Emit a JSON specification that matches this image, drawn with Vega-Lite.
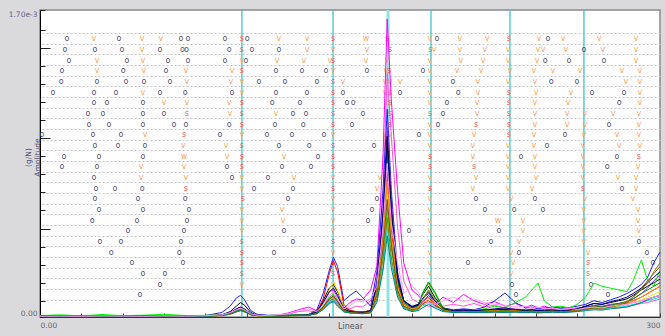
{
"$schema":"https://vega.github.io/schema/vega-lite/v6.json",
"width":620,"height":307,
"autosize":{"type":"none"},
"padding":{"left":40,"top":10,"right":5,"bottom":19},
"background":"#dadadd",
"config":{"view":{"fill":"#ffffff","stroke":"#8a8a8a","strokeWidth":1.5},"font":"DejaVu Sans"},
"datasets":{
"modes":[{"x":97.7,"kind":"mode"},{"x":141.8,"kind":"mode"},{"x":168.4,"kind":"peak"},{"x":189.2,"kind":"mode"},{"x":227.4,"kind":"mode"},{"x":263.2,"kind":"mode"}],
"spec":[
{"x":0,"a":5,"b":4,"c":6,"d":3,"e":4,"f":5,"g":3,"h":8,"i":4,"j":5,"k":3,"l":4,"m":6,"n":3,"o":5,"p":4},
{"x":10,"a":6,"b":5,"c":5,"d":4,"e":3,"f":4,"g":4,"h":12,"i":5,"j":4,"k":4,"l":3,"m":5,"n":4,"o":4,"p":5},
{"x":20,"a":5,"b":4,"c":7,"d":3,"e":4,"f":5,"g":3,"h":6,"i":4,"j":5,"k":3,"l":4,"m":4,"n":3,"o":6,"p":4},
{"x":30,"a":4,"b":5,"c":6,"d":4,"e":5,"f":4,"g":4,"h":14,"i":5,"j":4,"k":5,"l":3,"m":5,"n":4,"o":5,"p":6},
{"x":40,"a":6,"b":4,"c":5,"d":3,"e":4,"f":5,"g":3,"h":7,"i":4,"j":6,"k":4,"l":5,"m":4,"n":3,"o":4,"p":5},
{"x":50,"a":5,"b":6,"c":6,"d":4,"e":5,"f":4,"g":5,"h":10,"i":5,"j":4,"k":3,"l":4,"m":6,"n":5,"o":5,"p":4},
{"x":60,"a":7,"b":5,"c":5,"d":4,"e":4,"f":6,"g":4,"h":15,"i":4,"j":5,"k":5,"l":4,"m":5,"n":4,"o":6,"p":6},
{"x":70,"a":6,"b":4,"c":7,"d":5,"e":5,"f":5,"g":3,"h":8,"i":6,"j":4,"k":4,"l":5,"m":4,"n":3,"o":5,"p":5},
{"x":80,"a":8,"b":6,"c":8,"d":4,"e":6,"f":5,"g":5,"h":9,"i":5,"j":6,"k":5,"l":4,"m":6,"n":5,"o":4,"p":7},
{"x":88,"a":12,"b":10,"c":25,"d":8,"e":12,"f":10,"g":8,"h":12,"i":9,"j":10,"k":8,"l":9,"m":11,"n":8,"o":9,"p":12},
{"x":92,"a":25,"b":20,"c":60,"d":18,"e":30,"f":22,"g":15,"h":20,"i":18,"j":20,"k":16,"l":18,"m":22,"n":15,"o":18,"p":24},
{"x":95,"a":45,"b":35,"c":105,"d":30,"e":60,"f":40,"g":30,"h":35,"i":35,"j":32,"k":28,"l":30,"m":45,"n":28,"o":30,"p":40},
{"x":97,"a":55,"b":42,"c":120,"d":38,"e":80,"f":50,"g":40,"h":45,"i":42,"j":40,"k":35,"l":38,"m":55,"n":35,"o":36,"p":50},
{"x":99,"a":40,"b":35,"c":95,"d":30,"e":65,"f":40,"g":32,"h":35,"i":32,"j":30,"k":28,"l":30,"m":45,"n":28,"o":30,"p":40},
{"x":102,"a":18,"b":15,"c":35,"d":14,"e":25,"f":16,"g":12,"h":15,"i":14,"j":15,"k":12,"l":13,"m":18,"n":12,"o":13,"p":18},
{"x":105,"a":10,"b":8,"c":15,"d":8,"e":10,"f":9,"g":7,"h":9,"i":8,"j":9,"k":7,"l":8,"m":10,"n":7,"o":8,"p":10},
{"x":110,"a":8,"b":7,"c":10,"d":6,"e":7,"f":7,"g":5,"h":8,"i":6,"j":7,"k":6,"l":6,"m":8,"n":5,"o":6,"p":8},
{"x":115,"a":10,"b":9,"c":9,"d":6,"e":6,"f":7,"g":6,"h":12,"i":6,"j":8,"k":6,"l":7,"m":7,"n":6,"o":6,"p":12},
{"x":120,"a":22,"b":15,"c":10,"d":8,"e":8,"f":9,"g":7,"h":10,"i":7,"j":9,"k":7,"l":8,"m":8,"n":7,"o":7,"p":18},
{"x":125,"a":40,"b":30,"c":12,"d":10,"e":10,"f":12,"g":8,"h":12,"i":8,"j":10,"k":8,"l":9,"m":10,"n":8,"o":8,"p":35},
{"x":130,"a":55,"b":35,"c":14,"d":12,"e":12,"f":14,"g":10,"h":14,"i":10,"j":12,"k":10,"l":10,"m":12,"n":10,"o":10,"p":45},
{"x":134,"a":35,"b":25,"c":40,"d":20,"e":30,"f":30,"g":25,"h":25,"i":22,"j":20,"k":18,"l":20,"m":28,"n":18,"o":20,"p":30},
{"x":137,"a":70,"b":55,"c":130,"d":50,"e":90,"f":100,"g":70,"h":60,"i":55,"j":45,"k":50,"l":55,"m":80,"n":45,"o":40,"p":65},
{"x":140,"a":140,"b":110,"c":260,"d":90,"e":160,"f":240,"g":150,"h":110,"i":100,"j":85,"k":95,"l":100,"m":140,"n":80,"o":75,"p":120},
{"x":142,"a":150,"b":120,"c":330,"d":100,"e":180,"f":310,"g":190,"h":130,"i":115,"j":95,"k":110,"l":115,"m":160,"n":90,"o":85,"p":140},
{"x":144,"a":110,"b":90,"c":280,"d":75,"e":140,"f":250,"g":150,"h":95,"i":85,"j":70,"k":80,"l":85,"m":120,"n":65,"o":60,"p":100},
{"x":147,"a":50,"b":40,"c":90,"d":30,"e":55,"f":70,"g":50,"h":40,"i":35,"j":30,"k":35,"l":35,"m":45,"n":30,"o":28,"p":45},
{"x":150,"a":80,"b":45,"c":120,"d":25,"e":35,"f":35,"g":30,"h":30,"i":25,"j":22,"k":25,"l":28,"m":30,"n":25,"o":22,"p":60},
{"x":153,"a":100,"b":60,"c":144,"d":30,"e":30,"f":30,"g":28,"h":28,"i":25,"j":22,"k":25,"l":25,"m":28,"n":22,"o":20,"p":90},
{"x":156,"a":95,"b":55,"c":110,"d":28,"e":28,"f":28,"g":25,"h":25,"i":22,"j":20,"k":22,"l":22,"m":25,"n":20,"o":18,"p":85},
{"x":160,"a":150,"b":90,"c":60,"d":30,"e":35,"f":35,"g":30,"h":30,"i":28,"j":25,"k":28,"l":28,"m":35,"n":25,"o":22,"p":100},
{"x":163,"a":280,"b":200,"c":250,"d":180,"e":170,"f":150,"g":120,"h":130,"i":150,"j":90,"k":140,"l":120,"m":190,"n":100,"o":80,"p":170},
{"x":166,"a":900,"b":700,"c":700,"d":600,"e":560,"f":450,"g":400,"h":350,"i":500,"j":280,"k":420,"l":380,"m":560,"n":320,"o":260,"p":500},
{"x":168,"a":1650,"b":1350,"c":1150,"d":1050,"e":1000,"f":800,"g":700,"h":600,"i":900,"j":500,"k":750,"l":650,"m":950,"n":550,"o":450,"p":850},
{"x":170,"a":1200,"b":1000,"c":700,"d":650,"e":600,"f":480,"g":420,"h":380,"i":560,"j":300,"k":450,"l":400,"m":580,"n":330,"o":270,"p":520},
{"x":173,"a":700,"b":500,"c":250,"d":200,"e":220,"f":180,"g":160,"h":150,"i":200,"j":120,"k":170,"l":150,"m":220,"n":130,"o":110,"p":300},
{"x":176,"a":300,"b":200,"c":90,"d":80,"e":90,"f":70,"g":65,"h":60,"i":80,"j":50,"k":70,"l":60,"m":90,"n":55,"o":45,"p":130},
{"x":180,"a":150,"b":100,"c":60,"d":50,"e":55,"f":45,"g":40,"h":45,"i":50,"j":35,"k":45,"l":40,"m":55,"n":35,"o":30,"p":170},
{"x":183,"a":120,"b":80,"c":70,"d":60,"e":70,"f":55,"g":50,"h":60,"i":65,"j":40,"k":50,"l":45,"m":65,"n":45,"o":35,"p":140},
{"x":185,"a":90,"b":70,"c":100,"d":85,"e":120,"f":80,"g":90,"h":120,"i":130,"j":60,"k":70,"l":70,"m":100,"n":90,"o":50,"p":90},
{"x":188,"a":80,"b":60,"c":130,"d":110,"e":170,"f":120,"g":150,"h":190,"i":194,"j":80,"k":100,"l":90,"m":140,"n":150,"o":70,"p":80},
{"x":191,"a":70,"b":55,"c":90,"d":70,"e":110,"f":80,"g":90,"h":130,"i":140,"j":60,"k":70,"l":65,"m":90,"n":100,"o":50,"p":70},
{"x":195,"a":110,"b":60,"c":50,"d":40,"e":50,"f":40,"g":35,"h":45,"i":50,"j":35,"k":40,"l":38,"m":45,"n":40,"o":30,"p":90},
{"x":200,"a":80,"b":70,"c":40,"d":30,"e":35,"f":30,"g":28,"h":35,"i":35,"j":25,"k":30,"l":30,"m":35,"n":30,"o":25,"p":110},
{"x":205,"a":125,"b":60,"c":45,"d":35,"e":40,"f":32,"g":30,"h":30,"i":30,"j":28,"k":32,"l":28,"m":38,"n":28,"o":26,"p":85},
{"x":210,"a":90,"b":75,"c":40,"d":30,"e":35,"f":28,"g":25,"h":38,"i":32,"j":25,"k":30,"l":30,"m":35,"n":30,"o":24,"p":100},
{"x":215,"a":70,"b":55,"c":55,"d":35,"e":38,"f":30,"g":28,"h":45,"i":35,"j":28,"k":32,"l":30,"m":40,"n":28,"o":25,"p":80},
{"x":220,"a":85,"b":65,"c":90,"d":40,"e":40,"f":32,"g":30,"h":60,"i":38,"j":30,"k":35,"l":32,"m":45,"n":30,"o":26,"p":70},
{"x":225,"a":60,"b":50,"c":133,"d":38,"e":42,"f":30,"g":28,"h":50,"i":35,"j":28,"k":32,"l":30,"m":50,"n":28,"o":25,"p":65},
{"x":230,"a":75,"b":45,"c":80,"d":35,"e":38,"f":32,"g":30,"h":80,"i":34,"j":30,"k":34,"l":28,"m":42,"n":30,"o":27,"p":55},
{"x":235,"a":55,"b":40,"c":50,"d":32,"e":35,"f":30,"g":26,"h":110,"i":32,"j":26,"k":30,"l":28,"m":38,"n":26,"o":24,"p":60},
{"x":238,"a":65,"b":45,"c":55,"d":35,"e":40,"f":32,"g":30,"h":150,"i":35,"j":30,"k":32,"l":30,"m":40,"n":30,"o":26,"p":50},
{"x":241,"a":50,"b":40,"c":45,"d":30,"e":35,"f":28,"g":26,"h":188,"i":30,"j":26,"k":28,"l":26,"m":35,"n":26,"o":22,"p":55},
{"x":244,"a":60,"b":45,"c":50,"d":32,"e":38,"f":30,"g":28,"h":90,"i":32,"j":28,"k":30,"l":28,"m":38,"n":28,"o":24,"p":45},
{"x":248,"a":45,"b":38,"c":55,"d":35,"e":35,"f":32,"g":30,"h":55,"i":34,"j":30,"k":32,"l":30,"m":40,"n":30,"o":26,"p":50},
{"x":252,"a":55,"b":42,"c":48,"d":32,"e":36,"f":30,"g":28,"h":60,"i":32,"j":28,"k":30,"l":28,"m":36,"n":28,"o":25,"p":40},
{"x":256,"a":45,"b":35,"c":52,"d":34,"e":38,"f":32,"g":30,"h":50,"i":35,"j":30,"k":34,"l":30,"m":38,"n":30,"o":26,"p":48},
{"x":260,"a":50,"b":40,"c":60,"d":40,"e":45,"f":38,"g":35,"h":70,"i":40,"j":35,"k":38,"l":35,"m":45,"n":35,"o":30,"p":42},
{"x":264,"a":55,"b":45,"c":70,"d":55,"e":60,"f":45,"g":42,"h":110,"i":50,"j":40,"k":45,"l":42,"m":60,"n":45,"o":35,"p":50},
{"x":268,"a":60,"b":50,"c":90,"d":65,"e":75,"f":55,"g":50,"h":188,"i":60,"j":45,"k":55,"l":50,"m":75,"n":55,"o":40,"p":55},
{"x":272,"a":55,"b":45,"c":80,"d":60,"e":70,"f":50,"g":45,"h":170,"i":55,"j":42,"k":50,"l":48,"m":70,"n":50,"o":38,"p":50},
{"x":276,"a":65,"b":55,"c":95,"d":70,"e":80,"f":60,"g":55,"h":160,"i":65,"j":50,"k":60,"l":55,"m":85,"n":60,"o":45,"p":60},
{"x":280,"a":60,"b":50,"c":110,"d":75,"e":90,"f":65,"g":60,"h":150,"i":75,"j":55,"k":65,"l":65,"m":95,"n":70,"o":50,"p":65},
{"x":284,"a":70,"b":60,"c":130,"d":85,"e":100,"f":75,"g":70,"h":140,"i":85,"j":60,"k":75,"l":80,"m":110,"n":85,"o":55,"p":70},
{"x":287,"a":80,"b":65,"c":150,"d":100,"e":120,"f":90,"g":80,"h":200,"i":100,"j":70,"k":90,"l":110,"m":130,"n":110,"o":65,"p":80},
{"x":291,"a":90,"b":75,"c":180,"d":130,"e":150,"f":110,"g":95,"h":316,"i":130,"j":80,"k":110,"l":160,"m":160,"n":150,"o":80,"p":90},
{"x":294,"a":100,"b":80,"c":220,"d":160,"e":170,"f":130,"g":110,"h":200,"i":150,"j":90,"k":130,"l":200,"m":190,"n":190,"o":95,"p":100},
{"x":297,"a":110,"b":90,"c":300,"d":200,"e":190,"f":150,"g":125,"h":170,"i":170,"j":100,"k":150,"l":240,"m":220,"n":250,"o":110,"p":110},
{"x":300,"a":120,"b":100,"c":360,"d":230,"e":210,"f":170,"g":140,"h":260,"i":190,"j":110,"k":170,"l":280,"m":250,"n":300,"o":120,"p":120}
],
"marks":[
{"r":1,"x":13.1,"t":"o"},{"r":1,"x":26.1,"t":"v"},{"r":1,"x":38.2,"t":"o"},{"r":1,"x":49.4,"t":"v"},{"r":1,"x":58.5,"t":"v"},{"r":1,"x":68.2,"t":"o"},{"r":1,"x":71.6,"t":"o"},{"r":1,"x":89.5,"t":"o"},{"r":1,"x":97.7,"t":"s"},{"r":1,"x":100.2,"t":"o"},{"r":1,"x":115.6,"t":"v"},{"r":1,"x":129.2,"t":"v"},{"r":1,"x":141.8,"t":"s"},{"r":1,"x":157.7,"t":"w"},{"r":1,"x":167.9,"t":"s"},{"r":1,"x":188.7,"t":"v"},{"r":1,"x":192.1,"t":"o"},{"r":1,"x":203.2,"t":"v"},{"r":1,"x":216.3,"t":"v"},{"r":1,"x":226.9,"t":"s"},{"r":1,"x":241.5,"t":"v"},{"r":1,"x":245.8,"t":"o"},{"r":1,"x":253.1,"t":"v"},{"r":1,"x":270.5,"t":"v"},{"r":1,"x":288.4,"t":"v"},
{"r":2,"x":12.1,"t":"o"},{"r":2,"x":26.6,"t":"o"},{"r":2,"x":39.7,"t":"o"},{"r":2,"x":49.4,"t":"v"},{"r":2,"x":58.1,"t":"o"},{"r":2,"x":68.9,"t":"o"},{"r":2,"x":70.9,"t":"o"},{"r":2,"x":91.5,"t":"o"},{"r":2,"x":97.7,"t":"s"},{"r":2,"x":102.6,"t":"o"},{"r":2,"x":115.6,"t":"o"},{"r":2,"x":129.2,"t":"v"},{"r":2,"x":141.8,"t":"v"},{"r":2,"x":158.2,"t":"v"},{"r":2,"x":169.4,"t":"s"},{"r":2,"x":188.9,"t":"s"},{"r":2,"x":190.7,"t":"v"},{"r":2,"x":203.2,"t":"v"},{"r":2,"x":215.3,"t":"v"},{"r":2,"x":226.5,"t":"v"},{"r":2,"x":241.0,"t":"v"},{"r":2,"x":243.4,"t":"v"},{"r":2,"x":254.5,"t":"v"},{"r":2,"x":263.2,"t":"o"},{"r":2,"x":272.4,"t":"v"},{"r":2,"x":288.4,"t":"v"},
{"r":3,"x":14.0,"t":"o"},{"r":3,"x":27.6,"t":"v"},{"r":3,"x":42.1,"t":"o"},{"r":3,"x":49.8,"t":"v"},{"r":3,"x":61.9,"t":"o"},{"r":3,"x":71.6,"t":"o"},{"r":3,"x":89.5,"t":"o"},{"r":3,"x":97.7,"t":"v"},{"r":3,"x":99.7,"t":"o"},{"r":3,"x":114.7,"t":"v"},{"r":3,"x":127.7,"t":"v"},{"r":3,"x":140.3,"t":"v"},{"r":3,"x":141.8,"t":"s"},{"r":3,"x":157.7,"t":"v"},{"r":3,"x":167.9,"t":"v"},{"r":3,"x":188.7,"t":"v"},{"r":3,"x":203.7,"t":"v"},{"r":3,"x":214.4,"t":"v"},{"r":3,"x":226.5,"t":"v"},{"r":3,"x":240.5,"t":"v"},{"r":3,"x":244.4,"t":"o"},{"r":3,"x":256.0,"t":"o"},{"r":3,"x":272.9,"t":"o"},{"r":3,"x":288.4,"t":"v"},
{"r":4,"x":10.6,"t":"o"},{"r":4,"x":27.6,"t":"v"},{"r":4,"x":40.2,"t":"o"},{"r":4,"x":50.3,"t":"v"},{"r":4,"x":61.0,"t":"o"},{"r":4,"x":70.6,"t":"v"},{"r":4,"x":92.9,"t":"v"},{"r":4,"x":97.7,"t":"s"},{"r":4,"x":114.2,"t":"o"},{"r":4,"x":126.8,"t":"o"},{"r":4,"x":138.4,"t":"o"},{"r":4,"x":141.8,"t":"v"},{"r":4,"x":158.2,"t":"o"},{"r":4,"x":167.4,"t":"v"},{"r":4,"x":168.9,"t":"s"},{"r":4,"x":185.3,"t":"o"},{"r":4,"x":188.7,"t":"v"},{"r":4,"x":201.8,"t":"v"},{"r":4,"x":213.4,"t":"v"},{"r":4,"x":227.4,"t":"v"},{"r":4,"x":239.0,"t":"v"},{"r":4,"x":248.2,"t":"v"},{"r":4,"x":261.3,"t":"v"},{"r":4,"x":281.6,"t":"v"},{"r":4,"x":290.3,"t":"v"},
{"r":5,"x":10.2,"t":"o"},{"r":5,"x":27.6,"t":"o"},{"r":5,"x":41.6,"t":"o"},{"r":5,"x":50.3,"t":"o"},{"r":5,"x":62.9,"t":"o"},{"r":5,"x":71.1,"t":"v"},{"r":5,"x":92.4,"t":"v"},{"r":5,"x":97.7,"t":"v"},{"r":5,"x":106.0,"t":"o"},{"r":5,"x":118.5,"t":"o"},{"r":5,"x":134.0,"t":"o"},{"r":5,"x":141.8,"t":"s"},{"r":5,"x":146.6,"t":"v"},{"r":5,"x":166.9,"t":"v"},{"r":5,"x":169.4,"t":"v"},{"r":5,"x":174.2,"t":"v"},{"r":5,"x":188.7,"t":"v"},{"r":5,"x":199.8,"t":"o"},{"r":5,"x":211.9,"t":"v"},{"r":5,"x":226.5,"t":"v"},{"r":5,"x":239.5,"t":"v"},{"r":5,"x":247.3,"t":"o"},{"r":5,"x":259.8,"t":"o"},{"r":5,"x":283.5,"t":"v"},{"r":5,"x":290.3,"t":"v"},
{"r":6,"x":6.3,"t":"o"},{"r":6,"x":26.1,"t":"o"},{"r":6,"x":36.8,"t":"o"},{"r":6,"x":49.8,"t":"v"},{"r":6,"x":58.1,"t":"o"},{"r":6,"x":70.2,"t":"o"},{"r":6,"x":92.9,"t":"o"},{"r":6,"x":97.7,"t":"v"},{"r":6,"x":114.2,"t":"o"},{"r":6,"x":129.2,"t":"o"},{"r":6,"x":141.8,"t":"s"},{"r":6,"x":146.6,"t":"o"},{"r":6,"x":166.9,"t":"v"},{"r":6,"x":169.4,"t":"s"},{"r":6,"x":174.2,"t":"o"},{"r":6,"x":188.7,"t":"v"},{"r":6,"x":202.3,"t":"o"},{"r":6,"x":211.9,"t":"v"},{"r":6,"x":226.9,"t":"s"},{"r":6,"x":240.0,"t":"v"},{"r":6,"x":256.9,"t":"v"},{"r":6,"x":267.1,"t":"o"},{"r":6,"x":282.6,"t":"o"},{"r":6,"x":290.3,"t":"v"},
{"r":7,"x":26.1,"t":"o"},{"r":7,"x":32.4,"t":"o"},{"r":7,"x":49.8,"t":"o"},{"r":7,"x":60.0,"t":"v"},{"r":7,"x":71.1,"t":"v"},{"r":7,"x":91.5,"t":"v"},{"r":7,"x":97.7,"t":"s"},{"r":7,"x":112.3,"t":"o"},{"r":7,"x":125.8,"t":"o"},{"r":7,"x":141.8,"t":"s"},{"r":7,"x":148.5,"t":"o"},{"r":7,"x":151.5,"t":"o"},{"r":7,"x":167.4,"t":"v"},{"r":7,"x":169.4,"t":"s"},{"r":7,"x":188.7,"t":"v"},{"r":7,"x":196.9,"t":"o"},{"r":7,"x":211.5,"t":"v"},{"r":7,"x":226.9,"t":"s"},{"r":7,"x":239.5,"t":"v"},{"r":7,"x":255.5,"t":"v"},{"r":7,"x":280.2,"t":"o"},{"r":7,"x":290.3,"t":"v"},
{"r":8,"x":23.2,"t":"o"},{"r":8,"x":30.5,"t":"o"},{"r":8,"x":49.8,"t":"o"},{"r":8,"x":60.0,"t":"o"},{"r":8,"x":71.1,"t":"s"},{"r":8,"x":91.9,"t":"v"},{"r":8,"x":97.7,"t":"s"},{"r":8,"x":114.2,"t":"v"},{"r":8,"x":122.4,"t":"o"},{"r":8,"x":128.7,"t":"o"},{"r":8,"x":141.8,"t":"s"},{"r":8,"x":156.3,"t":"o"},{"r":8,"x":169.4,"t":"s"},{"r":8,"x":188.7,"t":"s"},{"r":8,"x":195.0,"t":"o"},{"r":8,"x":211.5,"t":"v"},{"r":8,"x":226.9,"t":"s"},{"r":8,"x":239.5,"t":"v"},{"r":8,"x":255.0,"t":"v"},{"r":8,"x":263.7,"t":"v"},{"r":8,"x":277.3,"t":"v"},{"r":8,"x":289.8,"t":"v"},
{"r":9,"x":23.7,"t":"o"},{"r":9,"x":33.4,"t":"o"},{"r":9,"x":49.8,"t":"o"},{"r":9,"x":64.8,"t":"o"},{"r":9,"x":70.6,"t":"o"},{"r":9,"x":91.5,"t":"o"},{"r":9,"x":97.7,"t":"s"},{"r":9,"x":113.7,"t":"o"},{"r":9,"x":127.3,"t":"o"},{"r":9,"x":141.8,"t":"s"},{"r":9,"x":151.0,"t":"o"},{"r":9,"x":167.9,"t":"v"},{"r":9,"x":169.4,"t":"s"},{"r":9,"x":188.7,"t":"v"},{"r":9,"x":192.6,"t":"o"},{"r":9,"x":211.0,"t":"s"},{"r":9,"x":226.9,"t":"s"},{"r":9,"x":239.5,"t":"v"},{"r":9,"x":255.0,"t":"v"},{"r":9,"x":263.7,"t":"v"},{"r":9,"x":275.3,"t":"o"},{"r":9,"x":289.8,"t":"v"},
{"r":10,"x":1.0,"t":"o"},{"r":10,"x":25.6,"t":"o"},{"r":10,"x":39.2,"t":"o"},{"r":10,"x":50.8,"t":"v"},{"r":10,"x":69.7,"t":"s"},{"r":10,"x":87.1,"t":"o"},{"r":10,"x":97.7,"t":"v"},{"r":10,"x":109.8,"t":"o"},{"r":10,"x":121.9,"t":"o"},{"r":10,"x":137.4,"t":"o"},{"r":10,"x":141.8,"t":"v"},{"r":10,"x":166.9,"t":"v"},{"r":10,"x":169.4,"t":"v"},{"r":10,"x":183.4,"t":"o"},{"r":10,"x":188.7,"t":"v"},{"r":10,"x":210.0,"t":"v"},{"r":10,"x":226.9,"t":"s"},{"r":10,"x":239.0,"t":"v"},{"r":10,"x":254.0,"t":"o"},{"r":10,"x":263.2,"t":"v"},{"r":10,"x":279.2,"t":"v"},{"r":10,"x":289.8,"t":"v"},
{"r":11,"x":26.6,"t":"o"},{"r":11,"x":37.7,"t":"o"},{"r":11,"x":50.8,"t":"o"},{"r":11,"x":69.2,"t":"v"},{"r":11,"x":90.0,"t":"v"},{"r":11,"x":97.7,"t":"s"},{"r":11,"x":115.6,"t":"o"},{"r":11,"x":130.2,"t":"o"},{"r":11,"x":141.8,"t":"s"},{"r":11,"x":161.6,"t":"o"},{"r":11,"x":167.9,"t":"v"},{"r":11,"x":188.7,"t":"v"},{"r":11,"x":209.5,"t":"v"},{"r":11,"x":226.5,"t":"v"},{"r":11,"x":239.0,"t":"v"},{"r":11,"x":245.3,"t":"o"},{"r":11,"x":262.7,"t":"v"},{"r":11,"x":280.2,"t":"v"},{"r":11,"x":290.3,"t":"v"},
{"r":12,"x":11.6,"t":"o"},{"r":12,"x":28.5,"t":"o"},{"r":12,"x":49.8,"t":"o"},{"r":12,"x":69.7,"t":"w"},{"r":12,"x":90.5,"t":"v"},{"r":12,"x":97.7,"t":"s"},{"r":12,"x":118.1,"t":"v"},{"r":12,"x":134.5,"t":"o"},{"r":12,"x":141.8,"t":"s"},{"r":12,"x":166.9,"t":"v"},{"r":12,"x":188.7,"t":"s"},{"r":12,"x":209.5,"t":"v"},{"r":12,"x":226.5,"t":"v"},{"r":12,"x":232.7,"t":"o"},{"r":12,"x":239.5,"t":"v"},{"r":12,"x":262.7,"t":"v"},{"r":12,"x":279.2,"t":"o"},{"r":12,"x":289.8,"t":"s"},
{"r":13,"x":10.6,"t":"o"},{"r":13,"x":27.6,"t":"o"},{"r":13,"x":48.9,"t":"v"},{"r":13,"x":69.7,"t":"v"},{"r":13,"x":90.5,"t":"o"},{"r":13,"x":97.7,"t":"s"},{"r":13,"x":117.1,"t":"o"},{"r":13,"x":131.1,"t":"o"},{"r":13,"x":141.8,"t":"s"},{"r":13,"x":166.9,"t":"s"},{"r":13,"x":188.7,"t":"s"},{"r":13,"x":210.0,"t":"s"},{"r":13,"x":226.5,"t":"v"},{"r":13,"x":239.5,"t":"v"},{"r":13,"x":262.7,"t":"v"},{"r":13,"x":274.4,"t":"o"},{"r":13,"x":289.4,"t":"v"},
{"r":14,"x":26.1,"t":"o"},{"r":14,"x":48.9,"t":"v"},{"r":14,"x":70.6,"t":"v"},{"r":14,"x":92.9,"t":"o"},{"r":14,"x":97.7,"t":"v"},{"r":14,"x":110.3,"t":"o"},{"r":14,"x":122.9,"t":"v"},{"r":14,"x":141.8,"t":"v"},{"r":14,"x":164.5,"t":"v"},{"r":14,"x":188.7,"t":"v"},{"r":14,"x":211.0,"t":"v"},{"r":14,"x":226.5,"t":"v"},{"r":14,"x":240.0,"t":"v"},{"r":14,"x":262.7,"t":"v"},{"r":14,"x":279.7,"t":"v"},{"r":14,"x":288.4,"t":"v"},
{"r":15,"x":27.1,"t":"o"},{"r":15,"x":36.3,"t":"o"},{"r":15,"x":49.4,"t":"o"},{"r":15,"x":70.6,"t":"s"},{"r":15,"x":97.7,"t":"v"},{"r":15,"x":103.5,"t":"o"},{"r":15,"x":122.4,"t":"o"},{"r":15,"x":141.8,"t":"s"},{"r":15,"x":163.1,"t":"v"},{"r":15,"x":188.7,"t":"s"},{"r":15,"x":209.5,"t":"v"},{"r":15,"x":226.5,"t":"v"},{"r":15,"x":238.1,"t":"v"},{"r":15,"x":262.7,"t":"s"},{"r":15,"x":281.6,"t":"o"},{"r":15,"x":288.4,"t":"v"},
{"r":16,"x":26.6,"t":"o"},{"r":16,"x":47.4,"t":"o"},{"r":16,"x":70.2,"t":"o"},{"r":16,"x":98.2,"t":"s"},{"r":16,"x":120.0,"t":"o"},{"r":16,"x":141.8,"t":"v"},{"r":16,"x":163.1,"t":"o"},{"r":16,"x":188.7,"t":"v"},{"r":16,"x":211.0,"t":"o"},{"r":16,"x":227.9,"t":"v"},{"r":16,"x":239.5,"t":"o"},{"r":16,"x":263.7,"t":"v"},{"r":16,"x":286.9,"t":"v"},
{"r":17,"x":28.5,"t":"o"},{"r":17,"x":49.8,"t":"o"},{"r":17,"x":72.1,"t":"o"},{"r":17,"x":97.7,"t":"v"},{"r":17,"x":117.1,"t":"v"},{"r":17,"x":141.8,"t":"v"},{"r":17,"x":160.6,"t":"o"},{"r":17,"x":188.7,"t":"v"},{"r":17,"x":215.3,"t":"o"},{"r":17,"x":229.4,"t":"o"},{"r":17,"x":243.4,"t":"o"},{"r":17,"x":263.2,"t":"v"},{"r":17,"x":289.4,"t":"v"},
{"r":18,"x":25.2,"t":"o"},{"r":18,"x":46.9,"t":"o"},{"r":18,"x":71.1,"t":"o"},{"r":18,"x":97.7,"t":"v"},{"r":18,"x":117.6,"t":"v"},{"r":18,"x":141.8,"t":"v"},{"r":18,"x":158.7,"t":"o"},{"r":18,"x":188.7,"t":"v"},{"r":18,"x":221.6,"t":"w"},{"r":18,"x":233.7,"t":"v"},{"r":18,"x":263.2,"t":"v"},{"r":18,"x":289.4,"t":"v"},
{"r":19,"x":42.6,"t":"o"},{"r":19,"x":69.7,"t":"o"},{"r":19,"x":97.7,"t":"v"},{"r":19,"x":118.1,"t":"o"},{"r":19,"x":141.8,"t":"v"},{"r":19,"x":178.5,"t":"o"},{"r":19,"x":188.7,"t":"v"},{"r":19,"x":222.1,"t":"o"},{"r":19,"x":233.7,"t":"v"},{"r":19,"x":263.2,"t":"v"},{"r":19,"x":289.8,"t":"v"},
{"r":20,"x":29.0,"t":"o"},{"r":20,"x":39.2,"t":"o"},{"r":20,"x":68.2,"t":"o"},{"r":20,"x":97.7,"t":"s"},{"r":20,"x":122.4,"t":"o"},{"r":20,"x":141.8,"t":"s"},{"r":20,"x":188.7,"t":"v"},{"r":20,"x":218.2,"t":"o"},{"r":20,"x":231.8,"t":"v"},{"r":20,"x":263.2,"t":"v"},{"r":20,"x":289.8,"t":"o"},
{"r":21,"x":34.4,"t":"o"},{"r":21,"x":67.3,"t":"o"},{"r":21,"x":97.7,"t":"s"},{"r":21,"x":113.2,"t":"o"},{"r":21,"x":141.8,"t":"v"},{"r":21,"x":188.7,"t":"v"},{"r":21,"x":227.9,"t":"v"},{"r":21,"x":231.8,"t":"o"},{"r":21,"x":265.2,"t":"v"},{"r":21,"x":293.7,"t":"o"},
{"r":22,"x":44.5,"t":"o"},{"r":22,"x":69.2,"t":"o"},{"r":22,"x":97.7,"t":"s"},{"r":22,"x":141.8,"t":"s"},{"r":22,"x":188.7,"t":"v"},{"r":22,"x":207.1,"t":"o"},{"r":22,"x":228.9,"t":"v"},{"r":22,"x":265.2,"t":"s"},{"r":22,"x":296.6,"t":"o"},
{"r":23,"x":49.8,"t":"o"},{"r":23,"x":60.5,"t":"o"},{"r":23,"x":97.7,"t":"s"},{"r":23,"x":141.8,"t":"s"},{"r":23,"x":188.7,"t":"v"},{"r":23,"x":227.9,"t":"v"},{"r":23,"x":265.2,"t":"s"},
{"r":24,"x":58.1,"t":"o"},{"r":24,"x":97.7,"t":"v"},{"r":24,"x":141.8,"t":"v"},{"r":24,"x":188.7,"t":"v"},{"r":24,"x":228.4,"t":"o"},{"r":24,"x":266.6,"t":"o"},
{"r":25,"x":48.4,"t":"o"},{"r":25,"x":230.3,"t":"o"},{"r":25,"x":274.8,"t":"o"}
]
},
"encoding":{
"x":{"field":"x","type":"quantitative","scale":{"domain":[0,300],"nice":false,"zero":false},
"axis":{"values":[0,20,40,60,80,100,120,140,160,180,200,220,240,260,280,300],
"labelExpr":"datum.value==0?'0.00':datum.value==300?'300':''",
"labelAlign":{"condition":{"test":"datum.value==0","value":"left"},"value":"right"},
"labelBaseline":"middle","labelPadding":12,"labelFontSize":7.5,"labelColor":"#666666","labelFlush":false,"labelOverlap":false,
"tickSize":-4,"tickColor":"#444444","domainColor":"#333333","grid":false,
"title":"Linear","titleFontSize":8,"titleFontWeight":"normal","titleColor":"#555555","titleY":9,"titleBaseline":"middle"}}
},
"layer":[
{"data":{"name":"modes"},"mark":{"type":"rule"},
"encoding":{"color":{"condition":{"test":"datum.kind=='peak'","value":"#8fe3e3"},"value":"#3cc6c6"},
"strokeWidth":{"condition":{"test":"datum.kind=='peak'","value":3},"value":1.3}}},
{"data":{"name":"marks"},"mark":{"type":"text","fontSize":8,"baseline":"alphabetic","dy":2.2,"font":"DejaVu Sans"},
"encoding":{
"y":{"field":"r","type":"quantitative","scale":{"domain":[-1.719,27.062],"reverse":true,"nice":false,"zero":false},
"axis":{"orient":"right","values":[0.44,1.44,2.44,3.44,4.44,5.44,6.44,7.44,8.44,9.44,10.44,11.44,12.44,13.44,14.44,15.44,16.44,17.44,18.44,19.44,20.44,21.44,22.44,23.44,24.44,25.44],
"grid":true,"gridDash":[2,2],"gridColor":"#c4c4c4","gridWidth":1,"labels":false,"ticks":false,"domain":false,"title":null}},
"text":{"field":"t","type":"nominal"},
"color":{"field":"t","type":"nominal","scale":{"domain":["o","v","s","w"],"range":["#50506e","#f7a35c","#ee5a5a","#f7a35c"]},"legend":null}}},
{"data":{"name":"spec"},
"transform":[{"fold":["a","b","c","d","e","f","g","h","i","j","k","l","m","n","o","p"],"as":["series","amp"]}],
"mark":{"type":"line","strokeWidth":1,"clip":true},
"encoding":{
"y":{"field":"amp","type":"quantitative","scale":{"domain":[0,1700],"nice":false,"zero":false},
"axis":{"orient":"left","values":[0,90,190,290,390,490,590,690,790,890,990,1090,1190,1290,1390,1490,1590,1700],
"labelExpr":"datum.value==1700?'1.70e-3':datum.value==0?'0.00':''",
"labelBaseline":{"condition":{"test":"datum.value==1700","value":"top"},"value":"bottom"},
"labelFontSize":7.5,"labelColor":{"condition":{"test":"datum.value==1700","value":"#6b5f86"},"value":"#666666"},
"labelPadding":8,"labelFlush":false,"labelOverlap":false,
"tickSize":{"condition":{"test":"datum.value%500==490","value":-10},"value":-5},
"tickColor":"#222222","domainColor":"#000000","domainWidth":1,"grid":false,
"title":["(g/N)","Amplitude"],"titleFontSize":7.5,"titleFontWeight":"normal","titleColor":"#4a4a6e","titleAngle":-90,"titleX":-8,"titleY":147,"titleAlign":"center","titleBaseline":"bottom","titleLineHeight":9}},
"color":{"field":"series","type":"nominal","scale":{"domain":["a","b","c","d","e","f","g","h","i","j","k","l","m","n","o","p"],"range":["#ff00ff","#ff55cc","#2020ff","#8a2be2","#000000","#ff0000","#e6e600","#00ee00","#008800","#00e5e5","#ff8c00","#8b4513","#000080","#808000","#008080","#ff99ff"]},"legend":null}}}
],
"resolve":{"scale":{"y":"independent","color":"independent"},"axis":{"y":"independent"}}
}
